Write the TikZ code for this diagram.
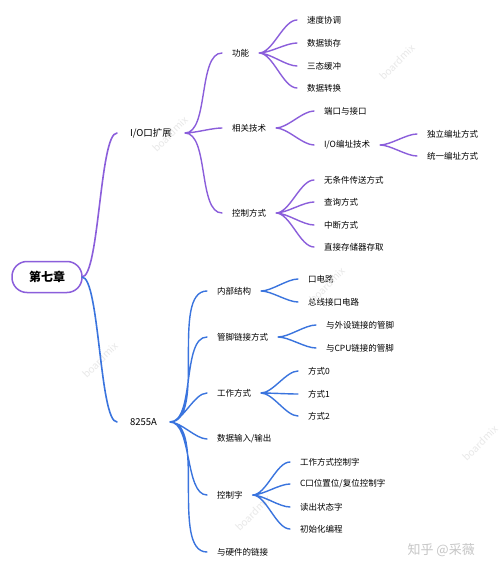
\documentclass[tikz,border=0pt]{standalone}
\usepackage{fontspec}
\setmainfont{Noto Sans CJK SC}
\usetikzlibrary{positioning}

\definecolor{mmpurple}{RGB}{139,94,219}
\definecolor{mmblue}{RGB}{58,116,222}

\tikzset{
    mmroot/.style={draw=mmpurple, line width=1.5pt, rounded corners=15pt, minimum width=70pt, minimum height=31pt, inner sep=0pt, outer sep=0pt, font=\fontsize{12}{14}\selectfont\bfseries},
    topic/.style={inner sep=0pt, outer xsep=13pt, font=\fontsize{9.5}{11}\selectfont},
    sub/.style={inner sep=0pt, outer xsep=10pt, font=\fontsize{8.5}{10}\selectfont},
    link/.style={line width=1.4pt, line cap=round, out=0, in=180, looseness=0.7},
    wmark/.style={text=gray!18, rotate=45, font=\fontsize{10}{12}\selectfont},
}

\begin{document}
\begin{tikzpicture}[node distance=0pt]
    \fill[white] (0pt,0pt) rectangle (500pt,-572pt);
    \useasboundingbox (0pt,0pt) rectangle (500pt,-572pt);

    \node [mmroot] (root) at (47pt,-277pt) {第七章};
    \node [topic] [right=of root, xshift=35pt, yshift=144pt] (io) {I/O口扩展};
    \node [topic] [right=of root, xshift=35pt, yshift=-145pt] (chip) {8255A};

    \node [sub] [right=of root, xshift=140pt, yshift=224pt] (gn) {功能};
    \node [sub] [right=of root, xshift=140pt, yshift=149pt] (jishu) {相关技术};
    \node [sub] [right=of root, xshift=140pt, yshift=64pt] (kzfs) {控制方式};
    \node [sub] [right=of root, xshift=215pt, yshift=257pt] (sudu) {速度协调};
    \node [sub] [right=of root, xshift=215pt, yshift=234pt] (suocun) {数据锁存};
    \node [sub] [right=of root, xshift=215pt, yshift=211pt] (santai) {三态缓冲};
    \node [sub] [right=of root, xshift=215pt, yshift=189pt] (zhuanhuan) {数据转换};
    \node [sub] [right=of root, xshift=232pt, yshift=166pt] (duankou) {端口与接口};
    \node [sub] [right=of root, xshift=232pt, yshift=132pt] (bianzhi) {I/O编址技术};
    \node [sub] [right=of root, xshift=335pt, yshift=143pt] (duli) {独立编址方式};
    \node [sub] [right=of root, xshift=335pt, yshift=121pt] (tongyi) {统一编址方式};
    \node [sub] [right=of root, xshift=232pt, yshift=97pt] (wutiaojian) {无条件传送方式};
    \node [sub] [right=of root, xshift=232pt, yshift=75pt] (chaxun) {查询方式};
    \node [sub] [right=of root, xshift=232pt, yshift=52pt] (zhongduan) {中断方式};
    \node [sub] [right=of root, xshift=232pt, yshift=30pt] (dma) {直接存储器存取};

    \node [sub] [right=of root, xshift=125pt, yshift=-14pt] (neibu) {内部结构};
    \node [sub] [right=of root, xshift=125pt, yshift=-60pt] (guanjiao) {管脚链接方式};
    \node [sub] [right=of root, xshift=125pt, yshift=-116pt] (gzfs) {工作方式};
    \node [sub] [right=of root, xshift=125pt, yshift=-162pt] (shuru) {数据输入/输出};
    \node [sub] [right=of root, xshift=125pt, yshift=-218pt] (kzz) {控制字};
    \node [sub] [right=of root, xshift=125pt, yshift=-275pt] (yingjian) {与硬件的链接};
    \node [sub] [right=of root, xshift=216pt, yshift=-2pt] (kdl) {口电路};
    \node [sub] [right=of root, xshift=216pt, yshift=-25pt] (zongxian) {总线接口电路};
    \node [sub] [right=of root, xshift=234pt, yshift=-48pt] (waishe) {与外设链接的管脚};
    \node [sub] [right=of root, xshift=234pt, yshift=-71pt] (cpu) {与CPU链接的管脚};
    \node [sub] [right=of root, xshift=216pt, yshift=-94pt] (fs0) {方式0};
    \node [sub] [right=of root, xshift=216pt, yshift=-117pt] (fs1) {方式1};
    \node [sub] [right=of root, xshift=216pt, yshift=-139pt] (fs2) {方式2};
    \node [sub] [right=of root, xshift=208pt, yshift=-185pt] (fskzz) {工作方式控制字};
    \node [sub] [right=of root, xshift=208pt, yshift=-207pt] (ckou) {C口位置位/复位控制字};
    \node [sub] [right=of root, xshift=208pt, yshift=-230pt] (duchu) {读出状态字};
    \node [sub] [right=of root, xshift=208pt, yshift=-252pt] (chushi) {初始化编程};

    % watermarks
    \foreach \wx/\wy [count=\i] in {170/134, 397/62, 100/360, 327/285, 253/513, 480/443}
        \node [wmark] (wm\i) at (\wx pt,-\wy pt) {boardmix};
    \node [anchor=west, text=gray!45, font=\fontsize{13}{15}\selectfont] (zhihu) at (404pt,-550pt) {知乎 @采薇};

    \draw [link, mmpurple, looseness=0.3, line width=1.6pt] (root.east) to (io.west);
    \draw [link, mmblue, looseness=0.3, line width=1.6pt] (root.east) to (chip.west);
    \draw [link, mmpurple]
        (io.east) to (gn.west)
        (io.east) to (jishu.west)
        (io.east) to (kzfs.west)
        (gn.east) to (sudu.west)
        (gn.east) to (suocun.west)
        (gn.east) to (santai.west)
        (gn.east) to (zhuanhuan.west)
        (jishu.east) to (duankou.west)
        (jishu.east) to (bianzhi.west)
        (bianzhi.east) to (duli.west)
        (bianzhi.east) to (tongyi.west)
        (kzfs.east) to (wutiaojian.west)
        (kzfs.east) to (chaxun.west)
        (kzfs.east) to (zhongduan.west)
        (kzfs.east) to (dma.west);
    \draw [link, mmblue]
        (chip.east) to (neibu.west)
        (chip.east) to (guanjiao.west)
        (chip.east) to (gzfs.west)
        (chip.east) to (shuru.west)
        (chip.east) to (kzz.west)
        (chip.east) to (yingjian.west)
        (neibu.east) to (kdl.west)
        (neibu.east) to (zongxian.west)
        (guanjiao.east) to (waishe.west)
        (guanjiao.east) to (cpu.west)
        (gzfs.east) to (fs0.west)
        (gzfs.east) to (fs1.west)
        (gzfs.east) to (fs2.west)
        (kzz.east) to (fskzz.west)
        (kzz.east) to (ckou.west)
        (kzz.east) to (duchu.west)
        (kzz.east) to (chushi.west);
\end{tikzpicture}
\end{document}
